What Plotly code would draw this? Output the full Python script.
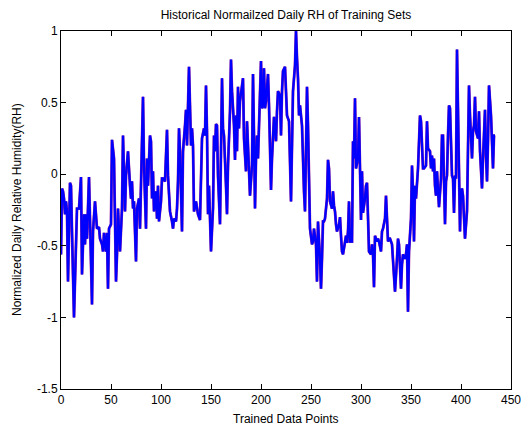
import plotly.graph_objects as go

# Sample index (trained data point number) and normalized daily RH
point_index = [
    0, 1, 2, 3, 4, 5, 6, 7, 9, 10, 11, 13, 16, 18, 20, 21, 23, 24, 25, 26, 28, 31, 32, 34, 36, 38, 39, 41, 42, 43,
    45, 46, 47, 48, 50, 51, 53, 55, 56, 57, 59, 61, 62, 64, 65, 67, 69, 70, 71, 72, 73, 75, 76, 78, 79, 81, 82, 83,
    85, 86, 87, 89, 90, 91, 92, 93, 95, 96, 97, 98, 100, 101, 102, 104, 106, 107, 109, 111, 112, 113, 115, 116, 117,
    118, 119, 121, 122, 124, 125, 126, 127, 128, 130, 131, 132, 133, 135, 136, 137, 139, 140, 141, 143, 144, 145,
    146, 147, 148, 149, 150, 152, 153, 154, 155, 156, 157, 159, 160, 161, 162, 163, 165, 166, 167, 169, 170, 171,
    173, 174, 175, 176, 177, 178, 179, 180, 182, 183, 185, 186, 187, 188, 189, 191, 192, 193, 194, 195, 196, 197,
    198, 200, 201, 202, 203, 204, 205, 207, 208, 209, 210, 211, 213, 214, 215, 216, 217, 219, 220, 221, 222, 224,
    225, 226, 227, 228, 230, 231, 232, 234, 235, 236, 237, 238, 239, 241, 242, 243, 244, 246, 247, 248, 249, 251,
    252, 253, 255, 256, 257, 259, 260, 261, 262, 263, 264, 266, 267, 268, 269, 271, 272, 273, 274, 275, 276, 278,
    279, 280, 281, 282, 284, 285, 286, 287, 288, 289, 291, 292, 293, 294, 295, 297, 298, 299, 300, 301, 302, 304,
    305, 306, 307, 308, 310, 311, 312, 313, 314, 316, 317, 318, 320, 321, 322, 324, 325, 326, 327, 328, 329, 331,
    332, 333, 334, 336, 337, 338, 339, 340, 341, 342, 344, 345, 346, 347, 348, 350, 351, 352, 353, 354, 355, 356,
    357, 359, 360, 362, 363, 365, 366, 367, 369, 370, 371, 372, 373, 374, 375, 376, 377, 378, 380, 381, 382, 383,
    384, 385, 386, 387, 388, 389, 390, 391, 392, 393, 394, 395, 396, 397, 398, 399, 400, 401, 402, 403, 404, 406,
    407, 408, 409, 410, 411, 412, 413, 414, 415, 417, 418, 419, 420, 421, 422, 424, 425, 426, 427, 428, 430, 431,
    432, 433, 434,
]
rh_normalized = [
    -0.56, -0.10, -0.12, -0.17, -0.28, -0.19, -0.26, -0.75, -0.06, -0.08, -0.40, -1.00, -0.24, -0.24, -0.02, -0.70,
    -0.28, -0.49, -0.28, -0.45, -0.02, -0.91, -0.40, -0.19, -0.38, -0.37, -0.45, -0.49, -0.54, -0.41,
    -0.54, -0.41, -0.80, -0.38, -0.35, 0.24, 0.11, -0.75, -0.56, -0.24, -0.54, -0.24, 0.27, -0.26, -0.01, 0.16, -0.08,
    -0.17, -0.05, -0.24, -0.19, -0.61, -0.24, -0.17, -0.38, 0.16, 0.54, 0.06,
    -0.38, 0.11, -0.08, 0.27, 0.23, -0.17, 0.02, -0.26, -0.12, -0.31, -0.08, -0.33, -0.19, -0.03, -0.03, -0.05, 0.31,
    -0.01, -0.26, -0.33, -0.38, -0.31, -0.33, -0.24, -0.05,
    0.32, 0.16, -0.40, 0.16, 0.34, 0.45, 0.20, 0.41, 0.75, 0.20, 0.32, 0.20, -0.26, -0.19, -0.26, -0.28, -0.32, 0.04,
    0.25, 0.32, 0.27, 0.62,
    0.30, -0.28, -0.08, -0.31, -0.54, -0.24, 0.27, 0.16, 0.35, 0.34, -0.01, -0.35, 0.46, 0.67, 0.32, 0.27, -0.08,
    -0.28, 0.06, 0.44, 0.80, 0.58,
    0.34, 0.10, 0.41, 0.16, 0.61, 0.32, 0.51, 0.58, 0.67, 0.25, 0.02, 0.37, 0.18, -0.08, -0.15, 0.06, 0.70, 0.27,
    -0.24, 0.11, 0.27, 0.11,
    0.39, 0.79, 0.46, 0.48, 0.74, 0.46, 0.51, 0.70, 0.48, 0.13, -0.11, 0.11, 0.40, 0.30, 0.23, 0.44, 0.58, 0.55, 0.27,
    0.58, 0.72, 0.75,
    0.58, 0.41, 0.39, 0.37, -0.19, 0.23, 0.58, 0.76, 1.00, 0.81, 0.67, 0.41, 0.48, 0.34, 0.04, -0.12, -0.26, 0.61,
    0.34, -0.12, -0.38, -0.49,
    -0.47, -0.38, -0.49, -0.75, -0.33, -0.59, -0.80, -0.59, -0.33, -0.33, -0.31, -0.17, 0.10, 0.04, -0.19, -0.24,
    -0.12, -0.22, -0.26, -0.35, -0.40, -0.35,
    -0.30, -0.43, -0.54, -0.56, -0.45, -0.43, -0.48, -0.40, -0.19, -0.47, -0.47, 0.23, 0.11, 0.53, 0.04, 0.11, 0.40,
    -0.01, -0.32, 0.02, -0.27, -0.17,
    -0.08, -0.06, -0.31, -0.54, -0.56, -0.49, -0.56, -0.79, -0.43, -0.47, -0.45, -0.47, -0.54, -0.40, -0.38, -0.31,
    -0.15, -0.33, -0.47, -0.45, -0.45, -0.49,
    -0.59, -0.75, -0.82, -0.59, -0.45, -0.49, -0.63, -0.80, -0.63, -0.56, -0.59, -0.56, -0.49, -0.96, -0.54, -0.31,
    0.06, -0.12, -0.47, -0.08, -0.17, -0.05,
    0.04, 0.41, 0.37, 0.04, 0.04, 0.06, 0.37, 0.18, 0.16, 0.04, 0.13, 0.02, 0.11, -0.08, -0.15, 0.02, -0.17, -0.23,
    -0.03, 0.27, 0.27, -0.22,
    -0.35, -0.05, -0.01, 0.27, 0.48, 0.46, 0.27, -0.01, -0.03, -0.27, -0.01, -0.03, 0.87, 0.34, -0.17, -0.40, -0.12,
    -0.10, -0.15, -0.26, -0.45, -0.26,
    0.34, 0.62, 0.41, 0.18, 0.11, 0.30, 0.34, 0.54, 0.30, 0.25, 0.44, 0.16, -0.01, -0.10, 0.11, 0.45, 0.13, -0.05,
    0.23, 0.62, 0.41, 0.16,
    0.04, 0.27, 0.27,
]

x_tick_values = [0, 50, 100, 150, 200, 250, 300, 350, 400, 450]
y_tick_values = [-1.5, -1, -0.5, 0, 0.5, 1]
y_tick_labels = ["-1.5", "-1", "-0.5", "0", "0.5", "1"]

font_family = "Liberation Sans, Arial, Helvetica, sans-serif"
# The page body keeps the browser's default 8px margin, so the figure is sized to fit after it.
PAGE_OFFSET = 8
W, H = 529 - PAGE_OFFSET, 428 - PAGE_OFFSET
ML, MR, MT, MB = 61 - PAGE_OFFSET, 18, 31 - PAGE_OFFSET, 39
plot_w = W - ML - MR
plot_h = H - MT - MB

fig = go.Figure()
fig.add_trace(go.Scatter(
    x=point_index, y=rh_normalized, mode="lines",
    line=dict(color="rgb(170,40,150)", width=2.8),
    showlegend=False, hoverinfo="skip",
))
fig.add_trace(go.Scatter(
    x=point_index, y=rh_normalized, mode="lines",
    line=dict(color="rgb(0,0,255)", width=2.3),
    showlegend=False,
))

axis_common = dict(
    showgrid=False, zeroline=False, automargin=False,
    showline=True, linecolor="black", linewidth=1, mirror="ticks",
    ticks="inside", ticklen=5, tickwidth=1, tickcolor="black",
    tickfont=dict(family=font_family, size=12, color="black"),
)

label_font = dict(family=font_family, size=12, color="black")

fig.update_layout(
    width=W, height=H,
    margin=dict(l=ML, r=MR, t=MT, b=MB, autoexpand=False),
    paper_bgcolor="white", plot_bgcolor="white",
    title=dict(
        text="Historical Normailzed Daily RH of Training Sets",
        font=label_font,
        x=0.5, xanchor="center", xref="paper",
        y=1 - (15 - PAGE_OFFSET) / H, yanchor="middle", yref="container",
    ),
    xaxis=dict(range=[0, 450], tickvals=x_tick_values, **axis_common),
    yaxis=dict(range=[-1.5, 1], tickvals=y_tick_values, ticktext=y_tick_labels, **axis_common),
    annotations=[
        dict(text="Trained Data Points", font=label_font, showarrow=False,
             xref="paper", yref="paper", x=0.5, y=-30 / plot_h,
             xanchor="center", yanchor="middle"),
        dict(text="Normalized Daily Relative Humidity(RH)", font=label_font, showarrow=False,
             xref="paper", yref="paper", x=-(ML - (17 - PAGE_OFFSET)) / plot_w, y=0.5, textangle=-90,
             xanchor="center", yanchor="middle"),
    ],
)

fig.write_html("out.html")
